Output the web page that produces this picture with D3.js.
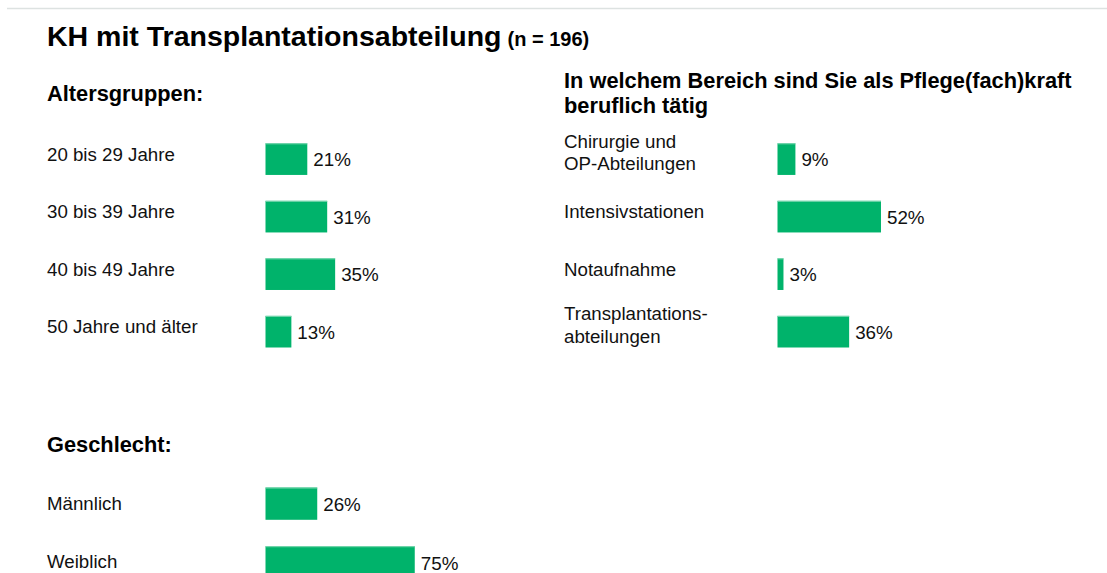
<!DOCTYPE html>
<html>
<head>
<meta charset="utf-8">
<script src="https://cdn.jsdelivr.net/npm/d3@7"></script>
<style>
  html, body { margin: 0; padding: 0; background: #ffffff; }
  svg { display: block; font-family: "Liberation Sans", Arial, sans-serif; }
</style>
</head>
<body>
<svg id="chart" width="1107" height="573"></svg>
<script>
// ---- Data ----
const title = "KH mit Transplantationsabteilung";
const titleN = "(n = 196)";

const ageTitle = "Altersgruppen:";
const ageCategories = ["20 bis 29 Jahre", "30 bis 39 Jahre", "40 bis 49 Jahre", "50 Jahre und älter"];
const ageValues = [21, 31, 35, 13];

const areaTitle = ["In welchem Bereich sind Sie als Pflege(fach)kraft", "beruflich tätig"];
const areaCategories = [["Chirurgie und", "OP-Abteilungen"], ["Intensivstationen"], ["Notaufnahme"], ["Transplantations-", "abteilungen"]];
const areaValues = [9, 52, 3, 36];

const genderTitle = "Geschlecht:";
const genderCategories = ["Männlich", "Weiblich"];
const genderValues = [26, 75];

// ---- Drawing ----
const svg = d3.select("#chart");
const green = "#00b36b";

svg.append("line")
  .attr("x1", 7).attr("x2", 1107).attr("y1", 8.5).attr("y2", 8.5)
  .attr("stroke", "#dde2e1").attr("stroke-width", 1.5);

const t = svg.append("text").attr("x", 47).attr("y", 45.5)
  .attr("font-weight", "bold").attr("fill", "#000");
t.append("tspan").attr("font-size", "28.5px").text(title);
t.append("tspan").attr("font-size", "20px").attr("dx", 6).text(titleN);

function panel(opts) {
  const { cats, vals, labelX, barX, range, headerLines, headerX, headerY, labelDy, valueDy } = opts;
  const g = svg.append("g");
  const header = g.append("text").attr("x", headerX).attr("y", headerY)
    .attr("font-weight", "bold").attr("font-size", "21.8px").attr("fill", "#000");
  headerLines.forEach((l, i) => header.append("tspan").attr("x", headerX).attr("dy", i === 0 ? 0 : 25).text(l));

  const keys = cats.map((c, i) => i);
  const y = d3.scaleBand().domain(keys).range(range).paddingInner(0.45).paddingOuter(0);
  const x = d3.scaleLinear().domain([0, 100]).range([barX, barX + 199]);

  g.selectAll("rect.bar").data(vals).join("rect")
    .attr("class", "bar")
    .attr("x", x(0))
    .attr("y", (d, i) => y(i))
    .attr("width", d => x(d) - x(0))
    .attr("height", y.bandwidth())
    .attr("fill", green);
  // light top edge
  g.selectAll("line.edge").data(vals).join("line")
    .attr("class", "edge")
    .attr("x1", x(0)).attr("x2", d => x(d))
    .attr("y1", (d, i) => y(i) + 0.5).attr("y2", (d, i) => y(i) + 0.5)
    .attr("stroke", "#7fd8b2").attr("stroke-width", 1);

  g.selectAll("text.val").data(vals).join("text")
    .attr("class", "val")
    .attr("x", d => x(d) + 6)
    .attr("y", (d, i) => y(i) + y.bandwidth() / 2 + valueDy)
    .attr("font-size", "18.8px").attr("fill", "#111")
    .text(d => d + "%");

  cats.forEach((c, i) => {
    const lines = Array.isArray(c) ? c : [c];
    const cy = y(i) + y.bandwidth() / 2;
    const tx = g.append("text").attr("x", labelX).attr("font-size", "18.7px").attr("fill", "#111");
    if (lines.length === 1) {
      tx.attr("y", cy + labelDy).text(lines[0]);
    } else {
      tx.attr("y", cy - 11.5);
      lines.forEach((l, k) => tx.append("tspan").attr("x", labelX).attr("dy", k === 0 ? 0 : 22.5).text(l));
    }
  });
}

panel({ cats: ageCategories, vals: ageValues, labelX: 47, barX: 265.5,
  range: [143.3, 347.5], headerLines: [ageTitle], headerX: 47, headerY: 101, labelDy: 1.5, valueDy: 7 });

panel({ cats: areaCategories, vals: areaValues, labelX: 564, barX: 777.5,
  range: [143.3, 347.5], headerLines: areaTitle, headerX: 564, headerY: 87.5, labelDy: 1.5, valueDy: 7 });

panel({ cats: genderCategories, vals: genderValues, labelX: 47, barX: 265.5,
  range: [487.5, 578.5], headerLines: [genderTitle], headerX: 47, headerY: 451.5, labelDy: 6, valueDy: 7.5 });
</script>
</body>
</html>
